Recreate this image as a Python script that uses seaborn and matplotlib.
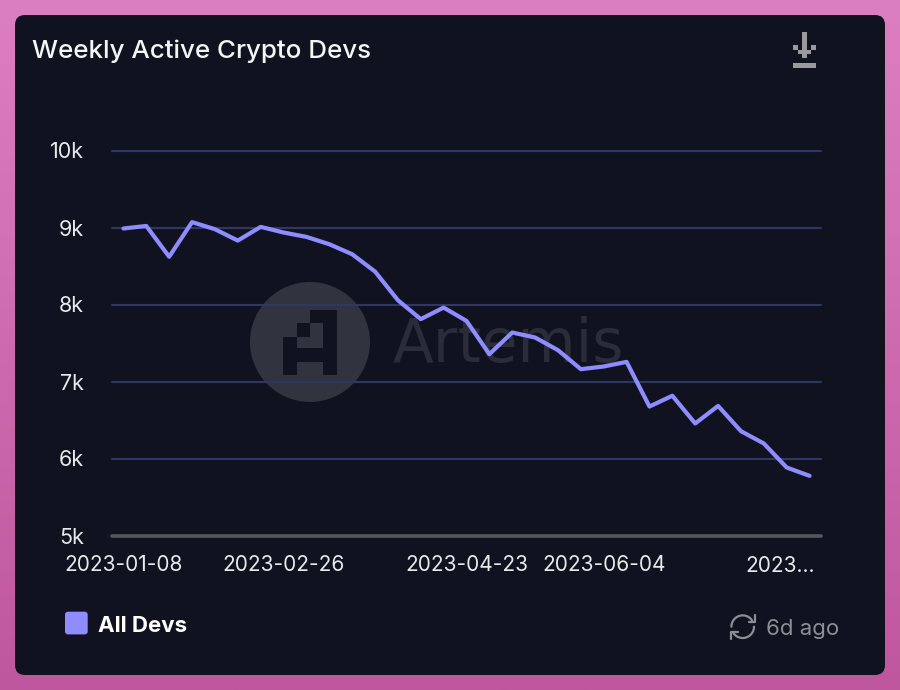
import numpy as np
import pandas as pd
import matplotlib
matplotlib.use("Agg")
import matplotlib.pyplot as plt
from matplotlib.patches import Circle, FancyBboxPatch, Rectangle
import seaborn as sns

weeks = pd.date_range("2023-01-08", periods=31, freq="7D").strftime("%Y-%m-%d").tolist()
all_devs = [8987, 9020, 8620, 9070, 8978, 8830, 9008, 8935, 8878, 8783, 8653,
            8428, 8056, 7810, 7960, 7787, 7355, 7636, 7571, 7407, 7160, 7195,
            7255, 6675, 6815, 6455, 6683, 6355, 6195, 5883, 5775]
y_ticks = [5000, 6000, 7000, 8000, 9000, 10000]
y_labels = ["5k", "6k", "7k", "8k", "9k", "10k"]
x_ticks = ["2023-01-08", "2023-02-26", "2023-04-23", "2023-06-04"]

CARD = "#10131f"
LINE = "#8f8cff"
GRID = "#2f3764"
GREY = "#8d8f96"

sns.set_theme(style="dark")
plt.rcParams["font.family"] = ["Inter", "DejaVu Sans"]

fig = plt.figure(figsize=(9, 6.9), dpi=100)

# backdrop, card and all the decoration in pixel coordinates
bg = fig.add_axes([0, 0, 1, 1], zorder=0)
grad = np.linspace(0, 1, 256).reshape(-1, 1)
pink = matplotlib.colors.LinearSegmentedColormap.from_list("pink_bg", ["#dc7fc0", "#bf579e"])
bg.imshow(grad, cmap=pink, extent=(0, 900, 690, 0), aspect="auto")
bg.set_xlim(0, 900)
bg.set_ylim(690, 0)
bg.axis("off")
bg.add_patch(FancyBboxPatch((25, 25), 850, 640, boxstyle="round,pad=10,rounding_size=10",
                            fc=CARD, ec="none"))

# watermark
bg.add_patch(Circle((310, 342), 60, fc="#31333e", ec="none"))
for x0, y0, w, h in [(310, 310, 26.7, 13.3), (323.3, 310, 13.4, 65), (296.7, 323.3, 13.3, 13.3),
                     (283.3, 336.7, 13.3, 38.3), (296.7, 348.3, 26.7, 13.3)]:
    bg.add_patch(Rectangle((x0, y0), w, h, fc=CARD, ec="none"))
bg.text(393, 362, "Artemis", color="#2a2d39", fontsize=43, va="baseline", ha="left", family="DejaVu Sans")

# download icon
for x0, y0, w, h in [(802.3, 31.7, 4.7, 26.5), (793.3, 45, 5, 5), (811.3, 45, 5, 5),
                     (798.3, 50, 13, 4.3), (793.3, 62.7, 22.7, 5)]:
    bg.add_patch(Rectangle((x0, y0), w, h, fc="#9a9a9e", ec="none"))

# legend swatch
bg.add_patch(FancyBboxPatch((68, 614.7), 16.7, 16.7, boxstyle="round,pad=3,rounding_size=3",
                            fc=LINE, ec="none"))

# refresh icon
t1 = np.deg2rad(np.linspace(180, 325, 40))
t2 = np.deg2rad(np.linspace(0, 145, 40))
bg.plot(742.7 + 11.3 * np.cos(t1), 626.7 + 11.3 * np.sin(t1), color=GREY, lw=1.6)
bg.plot(742.7 + 11.3 * np.cos(t2), 626.7 + 11.3 * np.sin(t2), color=GREY, lw=1.6)
bg.plot([755, 755, 748.5], [614.5, 621.5, 621.5], color=GREY, lw=1.6)
bg.plot([731, 731, 737.5], [638.5, 631.5, 631.5], color=GREY, lw=1.6)

bg.text(32, 51, "Weekly Active Crypto Devs", color="#f4f5f7", fontsize=18.7, va="center", weight="medium")
bg.text(98, 626.5, "All Devs", color="white", fontsize=16, va="center", weight="bold")
bg.text(766, 629, "6d ago", color=GREY, fontsize=16, va="center")
bg.text(780, 566, "2023...", color="#e8e9ec", fontsize=15, va="center", ha="center")

# the chart itself
ax = fig.add_axes([112 / 900, 154.5 / 690, 709 / 900, 385 / 690], zorder=1)
ax.patch.set_alpha(0)
sns.lineplot(x=weeks, y=all_devs, color=LINE, linewidth=3, sort=False, ax=ax, zorder=3)
ax.set_xlim(-0.5, 30.5)
ax.set_ylim(5000, 10000)
ax.set_yticks(y_ticks, y_labels)
ax.set_xticks(x_ticks)
ax.set_xlabel("")
ax.set_ylabel("")
ax.grid(axis="y", color=GRID, lw=1.5)
ax.grid(axis="x", visible=False)
for gl in ax.get_ygridlines():
    gl.set_clip_on(False)
ax.axhline(5000, color="#55565e", lw=2.6, zorder=2, clip_on=False)
sns.despine(ax=ax, left=True, bottom=True)
ax.tick_params(axis="x", length=0, pad=14, labelsize=15, labelcolor="#e8e9ec")
ax.tick_params(axis="y", length=0, pad=20, labelsize=15.5, labelcolor="#e8e9ec")

fig.savefig("out.png", dpi=100)
